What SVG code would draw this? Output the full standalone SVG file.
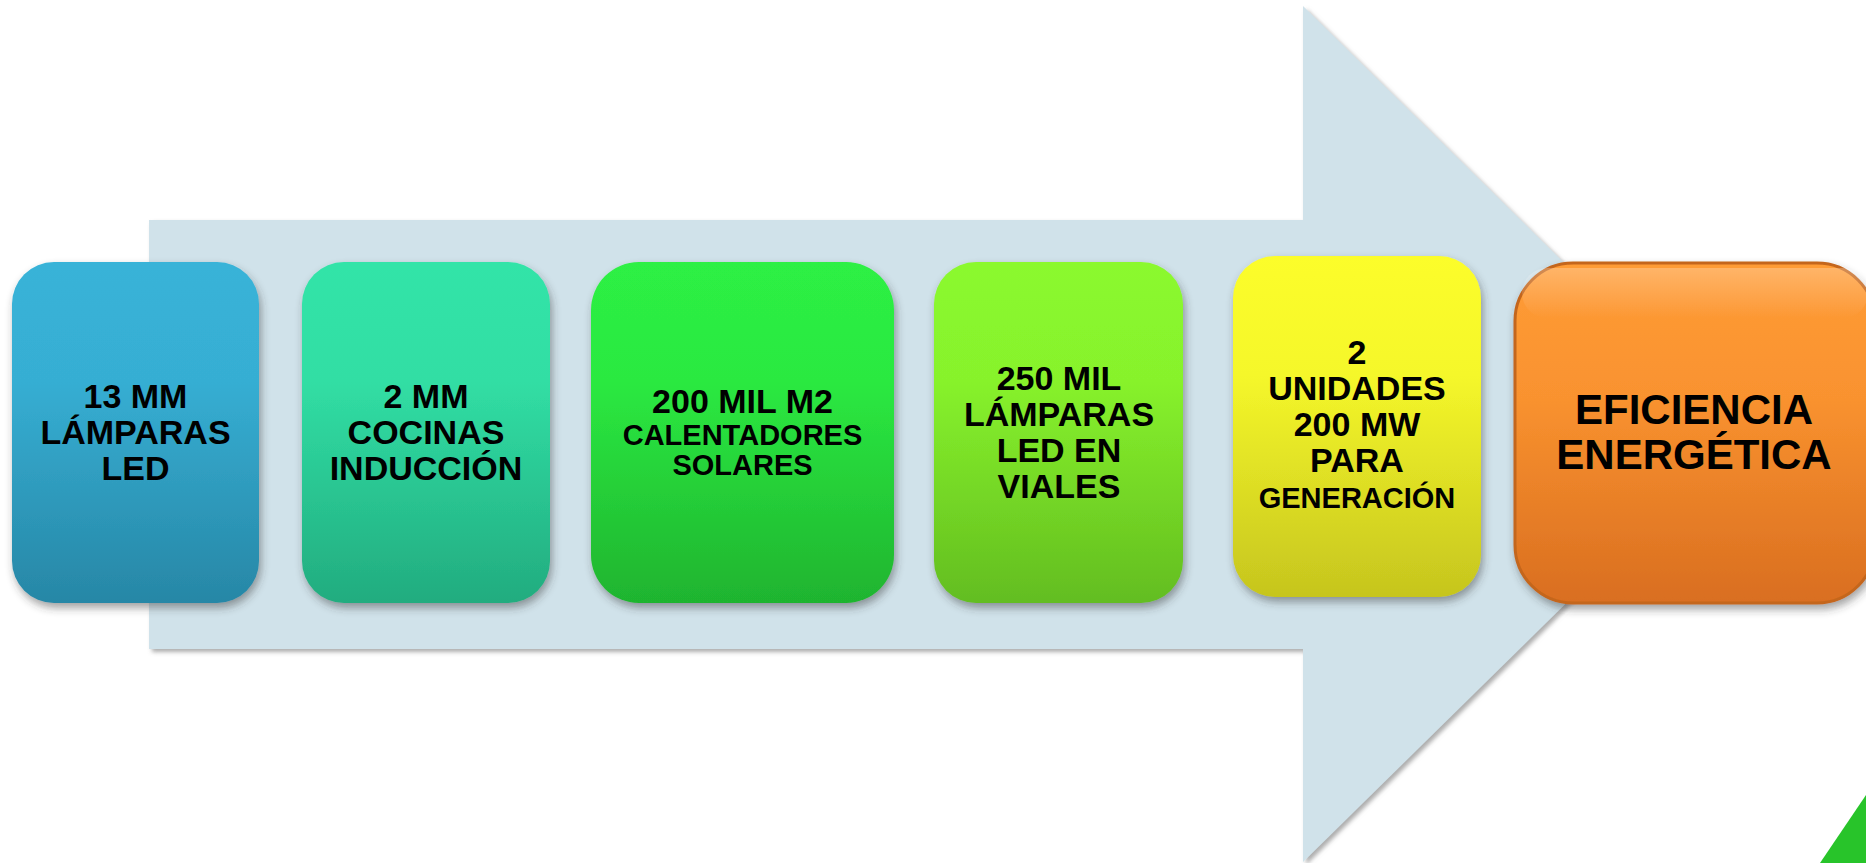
<svg xmlns="http://www.w3.org/2000/svg" width="1866" height="863" viewBox="0 0 1866 863">
<defs>
<style>
.t{font-family:"Liberation Sans",Arial,sans-serif;font-weight:bold;fill:#000;text-anchor:middle}
.b{font-size:34px}
.s{font-size:29px}
.l{font-size:42px}
</style>
<filter id="ash" x="-5%" y="-5%" width="110%" height="110%"><feDropShadow dx="3" dy="3" stdDeviation="2" flood-color="#777" flood-opacity="0.6"/></filter>
<filter id="bsh" x="-10%" y="-10%" width="120%" height="125%"><feDropShadow dx="2" dy="5" stdDeviation="4" flood-color="#333" flood-opacity="0.45"/></filter>
<linearGradient id="g1" x1="0" y1="0" x2="0" y2="1"><stop offset="0" stop-color="#38b3d8"/><stop offset="0.35" stop-color="#36aed3"/><stop offset="1" stop-color="#2787a6"/></linearGradient>
<linearGradient id="g2" x1="0" y1="0" x2="0" y2="1"><stop offset="0" stop-color="#32e4a8"/><stop offset="0.35" stop-color="#31dea4"/><stop offset="1" stop-color="#22ac7f"/></linearGradient>
<linearGradient id="g3" x1="0" y1="0" x2="0" y2="1"><stop offset="0" stop-color="#2df044"/><stop offset="0.35" stop-color="#2be941"/><stop offset="1" stop-color="#1fb42f"/></linearGradient>
<linearGradient id="g4" x1="0" y1="0" x2="0" y2="1"><stop offset="0" stop-color="#8bf92e"/><stop offset="0.35" stop-color="#87f22c"/><stop offset="1" stop-color="#63bd20"/></linearGradient>
<linearGradient id="g5" x1="0" y1="0" x2="0" y2="1"><stop offset="0" stop-color="#fcfd2b"/><stop offset="0.35" stop-color="#f5f72a"/><stop offset="1" stop-color="#c6c51e"/></linearGradient>
<linearGradient id="g6" x1="0" y1="0" x2="0" y2="1"><stop offset="0" stop-color="#ff9c36"/><stop offset="0.4" stop-color="#f9922f"/><stop offset="1" stop-color="#d96e20"/></linearGradient>
<linearGradient id="hl" x1="0" y1="0" x2="0" y2="1"><stop offset="0" stop-color="#ffffff" stop-opacity="0.25"/><stop offset="1" stop-color="#ffffff" stop-opacity="0"/></linearGradient>
</defs>
<rect width="1866" height="863" fill="#fff"/>
<g id="arrow">
<polygon points="149,220 1303,220 1303,6 1738,434 1303,862 1303,649 149,649" fill="#d0e2ea" filter="url(#ash)"/>
</g>
<g id="node1">
<rect x="12" y="262" width="247" height="341" rx="42" fill="url(#g1)" filter="url(#bsh)"/>
<text class="t b" x="135.5" y="408">13 MM</text>
<text class="t b" x="135.5" y="444">LÁMPARAS</text>
<text class="t b" x="135.5" y="480">LED</text>
</g>
<g id="node2">
<rect x="302" y="262" width="248" height="341" rx="42" fill="url(#g2)" filter="url(#bsh)"/>
<text class="t b" x="426" y="408">2 MM</text>
<text class="t b" x="426" y="444">COCINAS</text>
<text class="t b" x="426" y="480">INDUCCIÓN</text>
</g>
<g id="node3">
<rect x="591" y="262" width="303" height="341" rx="48" fill="url(#g3)" filter="url(#bsh)"/>
<text class="t b" x="742.5" y="413">200 MIL M2</text>
<text class="t s" x="742.5" y="445">CALENTADORES</text>
<text class="t s" x="742.5" y="475">SOLARES</text>
</g>
<g id="node4">
<rect x="934" y="262" width="249" height="341" rx="42" fill="url(#g4)" filter="url(#bsh)"/>
<text class="t b" x="1059" y="390">250 MIL</text>
<text class="t b" x="1059" y="426">LÁMPARAS</text>
<text class="t b" x="1059" y="462">LED EN</text>
<text class="t b" x="1059" y="498">VIALES</text>
</g>
<g id="node5">
<rect x="1233" y="256" width="248" height="341" rx="42" fill="url(#g5)" filter="url(#bsh)"/>
<text class="t b" x="1357" y="364">2</text>
<text class="t b" x="1357" y="400">UNIDADES</text>
<text class="t b" x="1357" y="436">200 MW</text>
<text class="t b" x="1357" y="472">PARA</text>
<text class="t s" x="1357" y="508">GENERACIÓN</text>
</g>
<g id="node6">
<rect x="1515" y="263" width="360" height="340" rx="58" fill="url(#g6)" stroke="#c4661c" stroke-width="3" filter="url(#bsh)"/>
<rect x="1522" y="268" width="346" height="50" rx="25" fill="url(#hl)"/>
<text class="t l" x="1694" y="424">EFICIENCIA</text>
<text class="t l" x="1694" y="469">ENERGÉTICA</text>
</g>
<g id="corner">
<polygon points="1820,863 1866,795 1866,863" fill="#28c42a"/>
</g>
</svg>
